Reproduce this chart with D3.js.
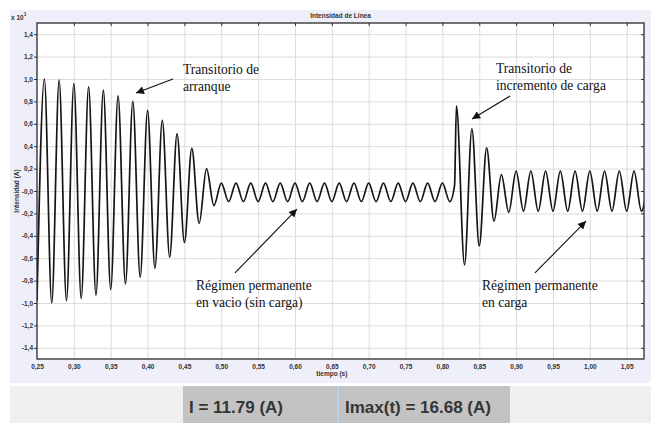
<!DOCTYPE html>
<html>
<head>
<meta charset="utf-8">
<script src="https://cdn.jsdelivr.net/npm/d3@7"></script>
<style>
  body { margin: 0; background: #ffffff; }
  svg { display: block; }
</style>
</head>
<body>
<svg id="chart" width="651" height="423"></svg>
<script>
// -- Data (values in x 10^1 A) -- //

// Times of each half-cycle extreme (s)
let tiempo = [
  0.25, 0.26, 0.27, 0.28, 0.29, 0.30, 0.31, 0.32, 0.33, 0.34,
  0.35, 0.36, 0.37, 0.38, 0.39, 0.40, 0.41, 0.42, 0.43, 0.44,
  0.45, 0.46, 0.47, 0.48, 0.49, 0.50, 0.51, 0.52, 0.53, 0.54,
  0.55, 0.56, 0.57, 0.58, 0.59, 0.60, 0.61, 0.62, 0.63, 0.64,
  0.65, 0.66, 0.67, 0.68, 0.69, 0.70, 0.71, 0.72, 0.73, 0.74,
  0.75, 0.76, 0.77, 0.78, 0.79, 0.80, 0.81, 0.8165, 0.819, 0.83,
  0.84, 0.85, 0.86, 0.87, 0.88, 0.89, 0.90, 0.91, 0.92, 0.93,
  0.94, 0.95, 0.96, 0.97, 0.98, 0.99, 1.00, 1.01, 1.02, 1.03,
  1.04, 1.05, 1.06, 1.07, 1.08
];
// Current at those extremes
let intensidad = [
  -0.98, 1.00, -1.00, 0.99, -0.98, 0.96, -0.96, 0.93, -0.93, 0.90,
  -0.88, 0.85, -0.83, 0.80, -0.77, 0.72, -0.69, 0.63, -0.59, 0.51,
  -0.46, 0.38, -0.29, 0.20, -0.13, 0.07, -0.095, 0.07, -0.095, 0.07,
  -0.095, 0.07, -0.095, 0.07, -0.095, 0.07, -0.095, 0.07, -0.095, 0.07,
  -0.095, 0.07, -0.095, 0.07, -0.095, 0.07, -0.095, 0.07, -0.095, 0.07,
  -0.095, 0.07, -0.095, 0.07, -0.095, 0.07, -0.095, 0.05, 0.76, -0.66,
  0.555, -0.49, 0.385, -0.27, 0.147, -0.19, 0.177, -0.18, 0.177, -0.18,
  0.177, -0.18, 0.177, -0.18, 0.177, -0.18, 0.177, -0.18, 0.177, -0.18,
  0.177, -0.18, 0.177, -0.18, 0.18
];

// Axis ticks
let xTicks = [0.25, 0.30, 0.35, 0.40, 0.45, 0.50, 0.55, 0.60, 0.65,
              0.70, 0.75, 0.80, 0.85, 0.90, 0.95, 1.00, 1.05];
let yTicks = [-1.4, -1.2, -1.0, -0.8, -0.6, -0.4, -0.2, 0,
              0.2, 0.4, 0.6, 0.8, 1.0, 1.2, 1.4];

// Annotations: text lines, text anchor and arrow ends in data units
let notas = [
  {lines: ["Transitorio de", "arranque"], at: [0.448, 1.045],
   from: [0.4345, 1.0], to: [0.3843, 0.875]},
  {lines: ["Transitorio de", "incremento de carga"], at: [0.8727, 1.054],
   from: [0.8917, 0.848], to: [0.8402, 0.643]},
  {lines: ["Régimen permanente", "en vacio (sin carga)"], at: [0.4657, -0.884],
   from: [0.5186, -0.732], to: [0.6027, -0.161]},
  {lines: ["Régimen permanente", "en carga"], at: [0.8537, -0.884],
   from: [0.9256, -0.732], to: [0.9948, -0.268]},
];

// Readouts under the chart
let lecturas = ["I = 11.79 (A)", "Imax(t) = 16.68 (A)"];


// -- Drawing -- //

let svg = d3.select("#chart");
let plot = {left: 37, right: 644, top: 23, bottom: 359};

let x = d3.scaleLinear().domain([0.25, 1.0735]).range([plot.left, plot.right]);
let y = d3.scaleLinear().domain([-1.5, 1.5]).range([plot.bottom, plot.top]);

let fmt = d => d === 0 ? "-0,0" : d.toFixed(2).replace(/0$/, "").replace(".", ",");
let fmtX = d => d.toFixed(2).replace(".", ",");

// Backgrounds
svg.append("rect").attr("x", 10).attr("y", 10).attr("width", 641).attr("height", 373)
  .attr("fill", "#efeff9");
svg.append("rect").attr("x", plot.left).attr("y", plot.top)
  .attr("width", plot.right - plot.left).attr("height", plot.bottom - plot.top)
  .attr("fill", "#ffffff");

// Grid
svg.append("g").attr("transform", `translate(0,${plot.bottom})`)
  .call(d3.axisBottom(x).tickValues(xTicks.slice(1)).tickSize(-(plot.bottom - plot.top)).tickFormat(""))
  .call(g => g.select(".domain").remove())
  .call(g => g.selectAll("line").attr("stroke", "#dcdcdc"));
svg.append("g").attr("transform", `translate(${plot.left},0)`)
  .call(d3.axisLeft(y).tickValues(yTicks).tickSize(-(plot.right - plot.left)).tickFormat(""))
  .call(g => g.select(".domain").remove())
  .call(g => g.selectAll("line").attr("stroke", "#dcdcdc"));

// Waveform
svg.append("clipPath").attr("id", "clip").append("rect")
  .attr("x", plot.left).attr("y", plot.top)
  .attr("width", plot.right - plot.left).attr("height", plot.bottom - plot.top);
let line = d3.line()
  .x((d, i) => x(tiempo[i]))
  .y(d => y(d))
  .curve(d3.curveMonotoneX);
svg.append("path")
  .attr("clip-path", "url(#clip)")
  .attr("d", line(intensidad))
  .attr("fill", "none")
  .attr("stroke", "#151515")
  .attr("stroke-width", 1.7)
  .attr("stroke-linejoin", "round");

// Axes
let tickFont = g => g.selectAll("text")
  .attr("font-family", "Liberation Sans, Arial, sans-serif")
  .attr("font-size", 6.5).attr("font-weight", "bold").attr("fill", "#333");
svg.append("g").attr("transform", `translate(0,${plot.bottom})`)
  .call(d3.axisBottom(x).tickValues(xTicks).tickSize(0).tickPadding(5).tickFormat(fmtX))
  .call(g => g.select(".domain").remove())
  .call(tickFont);
svg.append("g").attr("transform", `translate(${plot.left},0)`)
  .call(d3.axisLeft(y).tickValues(yTicks).tickSize(3).tickPadding(1).tickFormat(fmt))
  .call(g => g.select(".domain").remove())
  .call(g => g.selectAll("line").attr("stroke", "#333"))
  .call(tickFont);
svg.append("g").attr("transform", `translate(0,${plot.top})`)
  .call(d3.axisTop(x).tickValues(xTicks.slice(1)).tickSize(-3).tickFormat(""))
  .call(g => g.select(".domain").remove())
  .call(g => g.selectAll("line").attr("stroke", "#333"));
svg.append("g").attr("transform", `translate(${plot.right},0)`)
  .call(d3.axisRight(y).tickValues(yTicks).tickSize(-3).tickFormat(""))
  .call(g => g.select(".domain").remove())
  .call(g => g.selectAll("line").attr("stroke", "#333"));

// Frame
svg.append("rect").attr("x", plot.left).attr("y", plot.top)
  .attr("width", plot.right - plot.left).attr("height", plot.bottom - plot.top)
  .attr("fill", "none").attr("stroke", "#2a2a2a").attr("stroke-width", 1.3);

// Titles and axis labels
let small = sel => sel.attr("font-family", "Liberation Sans, Arial, sans-serif")
  .attr("font-size", 6.5).attr("font-weight", "bold").attr("fill", "#333");
svg.append("text").attr("x", (plot.left + plot.right) / 2).attr("y", 18)
  .attr("text-anchor", "middle").text("Intensidad de Linea").call(small);
svg.append("text").attr("x", x(0.65)).attr("y", 376)
  .attr("text-anchor", "middle").text("tiempo (s)").call(small);
svg.append("text").attr("transform", `translate(19,${y(0)}) rotate(-90)`)
  .attr("text-anchor", "middle").text("Intensidad (A)").call(small);
let exp = svg.append("text").attr("x", 11).attr("y", 20).call(small);
exp.append("tspan").text("x 10");
exp.append("tspan").attr("dy", -4).attr("font-size", 5).text("1");

// Annotations
svg.append("defs").append("marker")
  .attr("id", "arrow").attr("markerUnits", "userSpaceOnUse")
  .attr("viewBox", "0 0 10 10").attr("refX", 10).attr("refY", 5)
  .attr("markerWidth", 9).attr("markerHeight", 8).attr("orient", "auto")
  .append("path").attr("d", "M0,0L10,5L0,10Z").attr("fill", "#111");
let nota = svg.append("g").selectAll("g").data(notas).join("g");
nota.append("line")
  .attr("x1", d => x(d.from[0])).attr("y1", d => y(d.from[1]))
  .attr("x2", d => x(d.to[0])).attr("y2", d => y(d.to[1]))
  .attr("stroke", "#111").attr("stroke-width", 1.1)
  .attr("marker-end", "url(#arrow)");
nota.append("text")
  .attr("font-family", "Liberation Serif, Times New Roman, serif")
  .attr("font-size", 13.6).attr("fill", "#111")
  .selectAll("tspan").data(d => d.lines.map(l => ({l, at: d.at}))).join("tspan")
  .attr("x", d => x(d.at[0])).attr("y", (d, i) => y(d.at[1]) + i * 17)
  .text(d => d.l);

// Readout panel
svg.append("rect").attr("x", 10).attr("y", 386).attr("width", 641).attr("height", 37)
  .attr("fill", "#efefef");
svg.append("rect").attr("x", 183).attr("y", 386).attr("width", 327).attr("height", 37)
  .attr("fill", "#c3c3c3");
svg.append("line").attr("x1", 338).attr("x2", 338).attr("y1", 386).attr("y2", 423)
  .attr("stroke", "#b9d2ea").attr("stroke-width", 2);
svg.append("g").selectAll("text").data(lecturas).join("text")
  .attr("x", (d, i) => [189, 345][i]).attr("y", 413)
  .attr("font-family", "Liberation Sans, Arial, sans-serif")
  .attr("font-size", 17).attr("font-weight", "bold").attr("fill", "#353535")
  .text(d => d);
</script>
</body>
</html>
